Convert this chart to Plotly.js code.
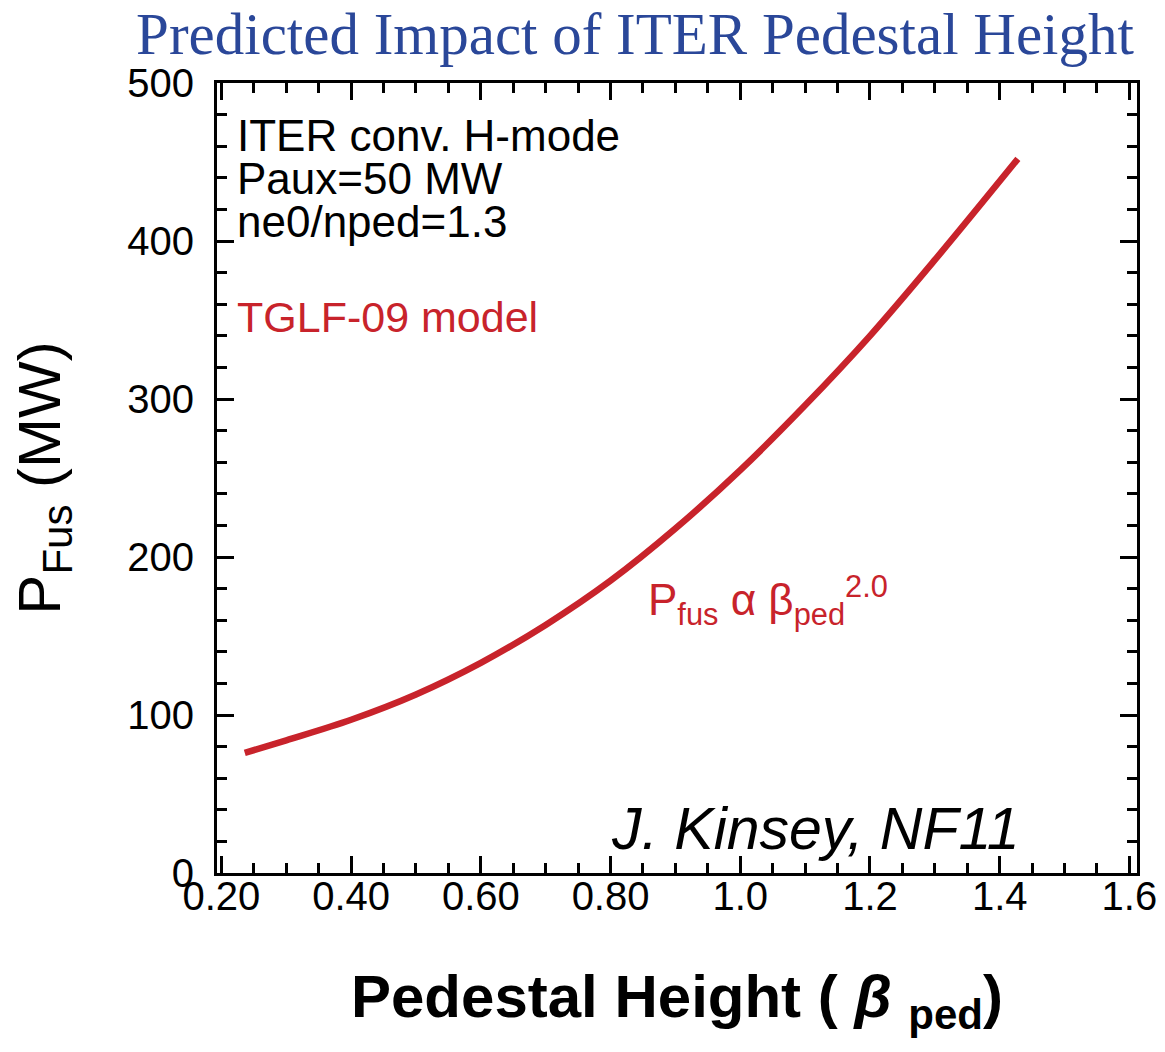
<!DOCTYPE html>
<html>
<head>
<meta charset="utf-8">
<script src="https://cdn.plot.ly/plotly-3.0.1.min.js"></script>
<style>html,body{margin:0;padding:0;background:#fff;}#chart{width:1165px;height:1052px;}</style>
</head>
<body>
<div id="chart"></div>
<script>
// Data
const betaPed = [0.236, 0.3, 0.4, 0.5, 0.6, 0.7, 0.8, 0.9, 1.0, 1.1, 1.2, 1.3, 1.428];
const pFus    = [76, 84, 97, 113, 133, 157, 185, 218, 255, 296, 340, 388, 452];

const xTickVals = [0.2, 0.4, 0.6, 0.8, 1.0, 1.2, 1.4, 1.6];
const xTickText = ['0.20', '0.40', '0.60', '0.80', '1.0', '1.2', '1.4', '1.6'];
const yTickVals = [0, 100, 200, 300, 400, 500];
const yTickText = ['0', '100', '200', '300', '400', '500'];

const infoLines = ['ITER conv. H-mode', 'Paux=50 MW', 'ne0/nped=1.3'];
const modelLabel = 'TGLF-09 model';
const creditLabel = 'J. Kinsey, NF11';
const scalingLabel = 'P<sub>fus</sub> α β<sub>ped</sub><sup>2.0</sup>';

const RED = '#c8232b';
const SANS = 'Liberation Sans, Arial, Helvetica, sans-serif';

const L = 217, R = 28, T = 83, B = 179, W = 1165, H = 1052;
const pw = W - L - R, ph = H - T - B;
const px = v => (v - L) / pw;
const py = v => (H - B - v) / ph;

const trace = {
  x: betaPed, y: pFus, type: 'scatter', mode: 'lines',
  line: {color: RED, width: 6.5, shape: 'spline', smoothing: 1},
  hoverinfo: 'skip', showlegend: false
};

const axisCommon = {
  showline: true, linecolor: '#000', linewidth: 3, mirror: 'allticks',
  ticks: 'inside', ticklen: 17, tickwidth: 3, tickcolor: '#000',
  showgrid: false, zeroline: false,
  tickfont: {family: SANS, size: 40, color: '#000'}
};

const annotations = [];
infoLines.forEach((t, i) => {
  annotations.push({text: t, xref: 'paper', yref: 'paper', x: px(235), y: py(135 + 43 * i),
    xanchor: 'left', yanchor: 'middle', showarrow: false,
    font: {family: SANS, size: 44, color: '#000'}});
});
annotations.push({text: modelLabel, xref: 'paper', yref: 'paper', x: px(235), y: py(317),
  xanchor: 'left', yanchor: 'middle', showarrow: false,
  font: {family: SANS, size: 43, color: RED}});
annotations.push({text: '<i>' + creditLabel + '</i>', xref: 'paper', yref: 'paper', x: px(1022), y: py(829),
  xanchor: 'right', yanchor: 'middle', showarrow: false,
  font: {family: SANS, size: 59, color: '#000'}});
annotations.push({text: scalingLabel, xref: 'paper', yref: 'paper', x: px(646), y: py(600),
  xanchor: 'left', yanchor: 'middle', showarrow: false,
  font: {family: SANS, size: 44, color: RED}});

const layout = {
  width: W, height: H,
  margin: {l: L, r: R, t: T, b: B, pad: 0},
  paper_bgcolor: '#fff', plot_bgcolor: '#fff',
  title: {
    text: 'Predicted Impact of ITER Pedestal Height',
    font: {family: 'Liberation Serif, Times New Roman, serif', size: 59, color: '#2a4799'},
    xref: 'container', yref: 'container', x: 635 / W, xanchor: 'center', y: 1 - 33 / H, yanchor: 'middle'
  },
  xaxis: Object.assign({}, axisCommon, {
    range: [0.1932, 1.6117],
    tickmode: 'array', tickvals: xTickVals, ticktext: xTickText,
    ticklabelstandoff: -14,
    minor: {tickmode: 'linear', tick0: 0.2, dtick: 0.05, ticks: 'inside', ticklen: 10, tickwidth: 3, tickcolor: '#000', showgrid: false},
    title: {text: 'Pedestal Height ( <i>β</i> <sub>ped</sub>)', standoff: 58,
      font: {family: SANS, size: 60, color: '#000', weight: 'bold'}}
  }),
  yaxis: Object.assign({}, axisCommon, {
    range: [0, 500],
    tickmode: 'array', tickvals: yTickVals, ticktext: yTickText,
    ticklabelstandoff: 12,
    minor: {tickmode: 'linear', tick0: 0, dtick: 20, ticks: 'inside', ticklen: 10, tickwidth: 3, tickcolor: '#000', showgrid: false},
    title: {text: 'P<sub>Fus</sub> (MW)', standoff: 48,
      font: {family: SANS, size: 60, color: '#000'}}
  }),
  annotations: annotations,
  showlegend: false
};

Plotly.newPlot('chart', [trace], layout, {displayModeBar: false, staticPlot: true});
</script>
</body>
</html>
